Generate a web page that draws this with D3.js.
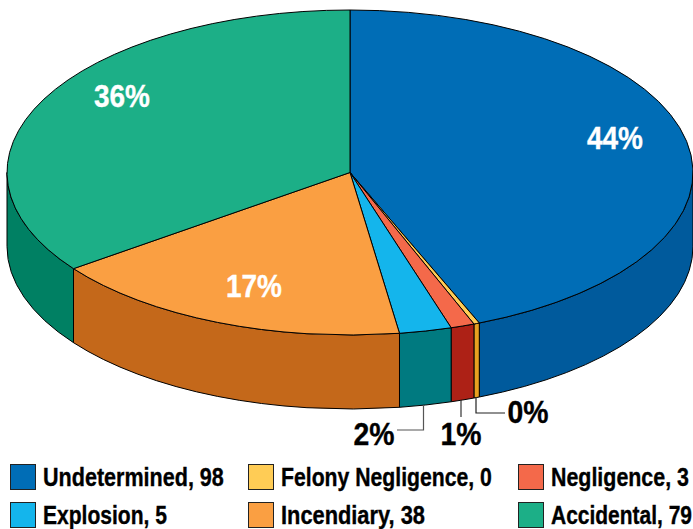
<!DOCTYPE html>
<html><head><meta charset="utf-8">
<script src="https://cdn.jsdelivr.net/npm/d3@7"></script>
<style>html,body{margin:0;padding:0;background:#fff;overflow:hidden}svg{display:block}
text{font-family:"Liberation Sans",Arial,sans-serif;font-weight:700;fill:#000}</style>
</head><body><svg id="c" width="693" height="529"></svg>
<script>
const categories=["Undetermined","Felony Negligence","Negligence","Explosion","Incendiary","Accidental"];
const legendValues=[98,0,3,5,38,79];
const drawnValues=[98,0.6,2.5,5.5,38.5,78.4];
const topColors=["#006db6","#ffcc55","#f4694a","#14b5ec","#fa9f42","#1caf87"];
const sideColors=["#005a9c","#e8a020","#ad2116","#007a80","#c4681a","#008063"];
const percentLabels=["44%","0%","1%","2%","17%","36%"];

const W=693,H=529,cx=350,cy=172.5,rx=343,ry=162.5,depth=74;
const svg=d3.select("#c");
const pie=d3.pie().sort(null).value(d=>d)(drawnValues);
const pt=(a,dy=0)=>[cx+rx*Math.sin(a),cy-ry*Math.cos(a)+dy];

// side walls: front half only
const gSide=svg.append("g");
pie.forEach((d,i)=>{
  const a0=Math.max(d.startAngle,Math.PI/2),a1=Math.min(d.endAngle,3*Math.PI/2);
  if(a1<=a0)return;
  const p0=pt(a0),p1=pt(a1);
  const path=`M${p0}A${rx},${ry} 0 0 1 ${p1}L${p1[0]},${p1[1]+depth}A${rx},${ry} 0 0 0 ${p0[0]},${p0[1]+depth}Z`;
  gSide.append("path").attr("d",path).attr("fill",sideColors[i]).attr("stroke","#000").attr("stroke-width",1).attr("stroke-linejoin","round");
});

// top face
const arc=d3.arc().innerRadius(0).outerRadius(rx);
svg.append("g").attr("transform",`translate(${cx},${cy}) scale(1,${ry/rx})`)
  .selectAll("path").data(pie).join("path")
  .attr("d",arc).attr("fill",(d,i)=>topColors[i])
  .attr("stroke","#000").attr("stroke-width",1).attr("vector-effect","non-scaling-stroke").attr("stroke-linejoin","round");

// leaders
const leaderData=[[[423.5,405],[423.5,430],[397,430]],[[461,400],[461,417]],[[476,397],[476,413],[505,413]]];
const leaderColors=["#555","#333","#222"];
svg.append("g").selectAll("path").data(leaderData).join("path")
  .attr("d",d3.line()).attr("fill","none").attr("stroke",(d,i)=>leaderColors[i]).attr("stroke-width",1.2);

// text squeezed horizontally to a target width, imitating the condensed face
function fitted(x,y,size,width,str,color,center){
  const t=svg.append("text").attr("font-size",size).style("fill",color)
    .style("stroke",color).style("stroke-width",0.35).text(str);
  const k=width/t.node().getComputedTextLength();
  const left=center?x-width/2:x;
  t.attr("transform",`translate(${left},${y}) scale(${k},1)`);
}

// percent labels
const labelPos=[[615,149,56,"#fff"],[528,423,41,"#000"],[461,445,41,"#000"],[374,445,41,"#000"],[254,297,56,"#fff"],[122,107,56,"#fff"]];
percentLabels.forEach((t,i)=>{
  const [x,y,l,c]=labelPos[i];
  fitted(x,y,31,l,t,c,true);
});

// legend
const colX=[10,248,518],rowY=[464,502],textW=[181,211,138,124,144,141];
categories.forEach((c,i)=>{
  const x=colX[i%3],y=rowY[Math.floor(i/3)];
  svg.append("rect").attr("x",x+.5).attr("y",y+.5).attr("width",25).attr("height",25)
    .attr("fill",topColors[i]).attr("stroke","#222").attr("stroke-width",1);
  fitted(x+33,y+21.5,25,textW[i],`${c}, ${legendValues[i]}`,"#000",false);
});
</script></body></html>
